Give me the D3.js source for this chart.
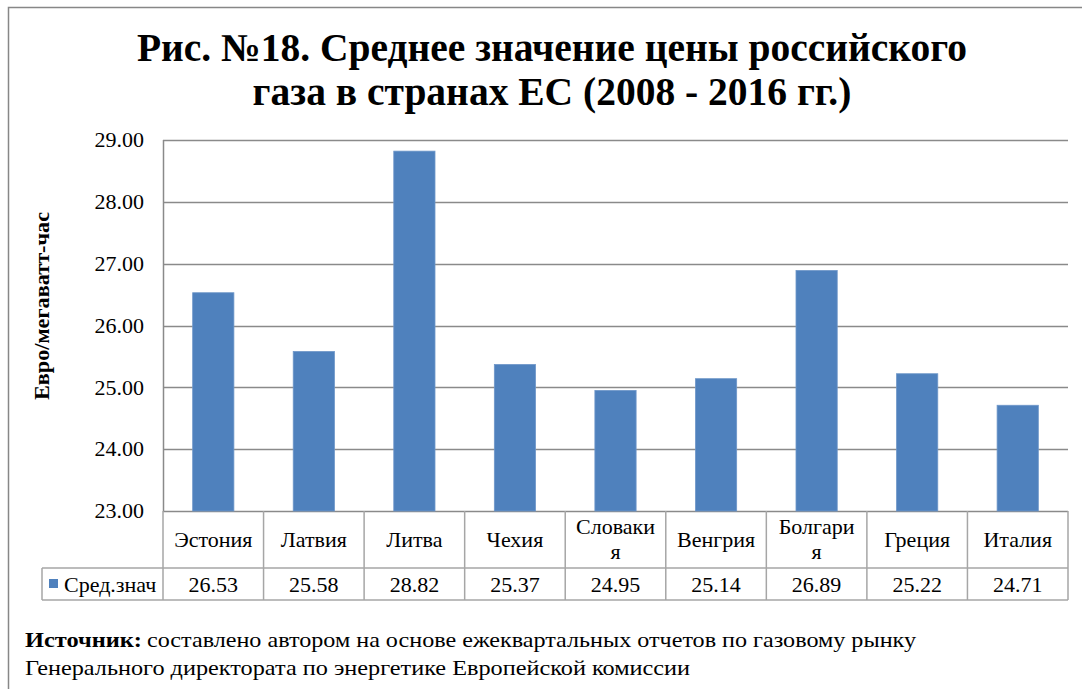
<!DOCTYPE html>
<html><head><meta charset="utf-8">
<script src="https://cdn.jsdelivr.net/npm/d3@7"></script>
</head><body style="margin:0">
<svg id="c" width="1082" height="689" font-family="Liberation Serif"></svg>
<script>
const categories = ["Эстония","Латвия","Литва","Чехия","Словакия","Венгрия","Болгария","Греция","Италия"];
const values = [26.53,25.58,28.82,25.37,24.95,25.14,26.89,25.22,24.71];
const seriesName = "Сред.знач";
const yTicks = [23,24,25,26,27,28,29];
const titleLines = ["Рис. №18. Среднее значение цены российского","газа в странах ЕС (2008 - 2016 гг.)"];
const yTitle = "Евро/мегаватт-час";
const sourceBold = "Источник:";
const sourceLine1 = "составлено автором на основе ежеквартальных  отчетов по газовому рынку";
const sourceLine2 = "Генерального директората по энергетике Европейской комиссии";

const FONT = "Liberation Serif";
const svg = d3.select("#c");
const L=163, R=1068, T=140, B=511, row1=568, row2=600, legL=42;
const barColor="#4F81BD", gridColor="#8a8a8a", tableColor="#a6a6a6";

function txt(sel){ return sel.append("text").attr("font-family",FONT).attr("fill","#000"); }

// frame
svg.append("path").attr("d","M8.5,689V7.5H1082").attr("fill","none").attr("stroke","#878787").attr("stroke-width",1.5);

const y = d3.scaleLinear().domain([23,29]).range([B,T]);
const x = d3.scaleBand().domain(categories).range([L,R]).padding(0);

// title
titleLines.forEach((d,i)=>{
  txt(svg).attr("x",552).attr("y",61+i*44).attr("text-anchor","middle")
    .attr("font-size",39.5).attr("font-weight","bold").text(d);
});

// gridlines
svg.append("g").selectAll("line").data(yTicks).join("line")
  .attr("x1",L).attr("x2",R).attr("y1",d=>Math.round(y(d))+0.5).attr("y2",d=>Math.round(y(d))+0.5)
  .attr("stroke",gridColor).attr("stroke-width",1.5);
svg.append("line").attr("x1",L+0.5).attr("x2",L+0.5).attr("y1",T).attr("y2",B).attr("stroke",gridColor).attr("stroke-width",1.5);

// y tick labels
const yg = svg.append("g");
yTicks.forEach(d=>{
  txt(yg).attr("x",144).attr("y",y(d)).attr("dy","0.33em").attr("text-anchor","end")
    .attr("font-size",22).text(d3.format(".2f")(d));
});

// y title
txt(svg).attr("transform","translate(49,306) rotate(-90)").attr("text-anchor","middle")
  .attr("font-size",20).attr("font-weight","bold")
  .attr("textLength",188).attr("lengthAdjust","spacingAndGlyphs").text(yTitle);

// bars
const bw = x.bandwidth()*0.41;
svg.append("g").selectAll("rect").data(values).join("rect")
  .attr("x",(d,i)=>x(categories[i])+x.bandwidth()/2-bw/2).attr("width",bw)
  .attr("y",d=>y(d)).attr("height",d=>y(23)-y(d))
  .attr("fill",barColor).attr("stroke","#6f97c9").attr("stroke-width",0.8);

// table
const tg = svg.append("g").attr("stroke",tableColor).attr("stroke-width",1.5).attr("fill","none");
tg.append("line").attr("x1",legL).attr("x2",R).attr("y1",row1).attr("y2",row1);
tg.append("line").attr("x1",legL).attr("x2",R).attr("y1",row2).attr("y2",row2);
tg.append("line").attr("x1",legL).attr("x2",legL).attr("y1",row1).attr("y2",row2);
const bounds = categories.map(c=>x(c)).concat([R]);
tg.selectAll("line.v").data(bounds).join("line").attr("class","v")
  .attr("x1",d=>d).attr("x2",d=>d).attr("y1",B).attr("y2",row2);

// category labels
const cg = svg.append("g");
categories.forEach(c=>{
  const lines = c.length>7 ? [c.slice(0,7), c.slice(7)] : [c];
  const cx = x(c)+x.bandwidth()/2;
  lines.forEach((ln,j)=>{
    const cy = lines.length===1 ? 540 : 527+j*25;
    txt(cg).attr("x",cx).attr("y",cy).attr("dy","0.33em").attr("text-anchor","middle")
      .attr("font-size",22).text(ln);
  });
});

// values
const vg = svg.append("g");
values.forEach((d,i)=>{
  txt(vg).attr("x",x(categories[i])+x.bandwidth()/2).attr("y",585).attr("dy","0.33em")
    .attr("text-anchor","middle").attr("font-size",22).text(d3.format(".2f")(d));
});

// legend
svg.append("rect").attr("x",49).attr("y",579).attr("width",9).attr("height",9).attr("fill",barColor);
txt(svg).attr("x",64).attr("y",585).attr("dy","0.33em").attr("font-size",22).text(seriesName);

// source
txt(svg).attr("x",25).attr("y",647).attr("font-size",22).attr("font-weight","bold")
  .attr("textLength",117).attr("lengthAdjust","spacingAndGlyphs").text(sourceBold);
txt(svg).attr("x",147).attr("y",647).attr("font-size",22)
  .attr("textLength",769).attr("lengthAdjust","spacingAndGlyphs").text(sourceLine1);
txt(svg).attr("x",25).attr("y",675).attr("font-size",22)
  .attr("textLength",665).attr("lengthAdjust","spacingAndGlyphs").text(sourceLine2);
</script>
</body></html>
